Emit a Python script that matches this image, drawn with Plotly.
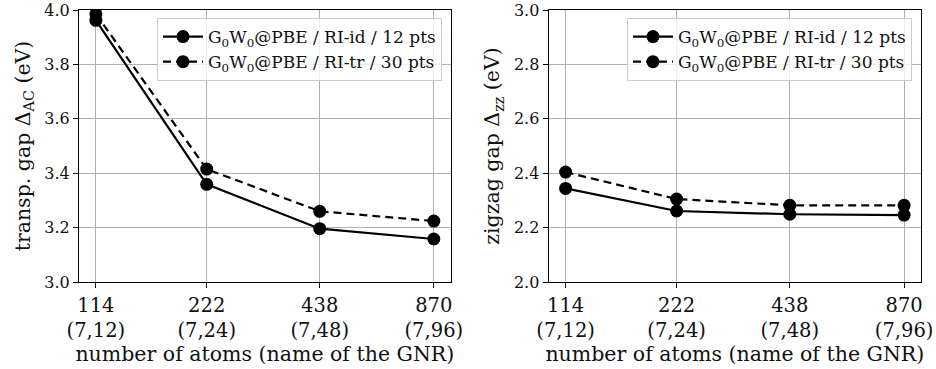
import plotly.graph_objects as go
from plotly.subplots import make_subplots

# GNR sizes (number of atoms) and their names
n_atoms = [114, 222, 438, 870]
gnr_names = ["(7,12)", "(7,24)", "(7,48)", "(7,96)"]
tick_text = [f"{n}<br>{g}" for n, g in zip(n_atoms, gnr_names)]

# transport gap Delta_AC (eV)
ac_ri_id = [3.962, 3.359, 3.196, 3.158]
ac_ri_tr = [3.985, 3.415, 3.260, 3.224]
ac_ticks = [3.0, 3.2, 3.4, 3.6, 3.8, 4.0]

# zigzag gap Delta_zz (eV)
zz_ri_id = [2.344, 2.261, 2.249, 2.246]
zz_ri_tr = [2.404, 2.305, 2.282, 2.282]
zz_ticks = [2.0, 2.2, 2.4, 2.6, 2.8, 3.0]

label_id = "G<sub>0</sub>W<sub>0</sub>@PBE / RI-id / 12 pts"
label_tr = "G<sub>0</sub>W<sub>0</sub>@PBE / RI-tr / 30 pts"

FONT = "'DejaVu Serif', serif"
INK = "#111"
W, H = 936, 369

fig = make_subplots(rows=1, cols=2)

panels = [
    (1, ac_ri_id, ac_ri_tr, "legend"),
    (2, zz_ri_id, zz_ri_tr, "legend2"),
]
for col, y_id, y_tr, leg in panels:
    fig.add_trace(go.Scatter(
        x=n_atoms, y=y_id, name=label_id, mode="lines+markers",
        line=dict(color="black", width=2.2),
        marker=dict(color="black", size=13),
        legend=leg,
    ), row=1, col=col)
    fig.add_trace(go.Scatter(
        x=n_atoms, y=y_tr, name=label_tr, mode="lines+markers",
        line=dict(color="black", width=2.2, dash="8px,5px"),
        marker=dict(color="black", size=13),
        legend=leg,
    ), row=1, col=col)

x0l, x1l = 79 / W, 450.7 / W
x0r, x1r = 548.7 / W, 921 / W
y0, y1 = 1 - 282 / H, 1 - 10 / H

axis_common = dict(
    showline=True, mirror=True, linecolor="black", linewidth=1.2,
    ticks="outside", ticklen=5, tickwidth=1.2, tickcolor="black",
    showgrid=True, gridcolor="#b0b0b0", gridwidth=1,
    zeroline=False, automargin=False, ticklabeloverflow="allow",
)

xaxis_common = dict(
    axis_common, type="log", range=[2.0128, 2.9836],
    tickvals=n_atoms, ticktext=tick_text,
    tickfont=dict(family=FONT, size=19.5, color=INK),
    title=dict(text="number of atoms (name of the GNR)",
               font=dict(family=FONT, size=20.5, color=INK), standoff=4),
)

def yaxis(ticks, title):
    return dict(
        axis_common, domain=[y0, y1], range=[ticks[0], ticks[-1]],
        tickvals=ticks, ticktext=[f"{t:.1f}" for t in ticks],
        tickfont=dict(family=FONT, size=16, color=INK),
        title=dict(text=title, font=dict(family=FONT, size=20.5, color=INK),
                   standoff=8),
    )

legend_common = dict(
    y=1 - 18 / H, xanchor="right", yanchor="top",
    bgcolor="rgba(255,255,255,0.8)", bordercolor="#cccccc", borderwidth=1,
    font=dict(family=FONT, size=17, color=INK),
    tracegroupgap=0, itemwidth=40,
)

fig.update_layout(
    width=W, height=H,
    margin=dict(l=0, r=0, t=0, b=0),
    paper_bgcolor="white", plot_bgcolor="white",
    font=dict(family=FONT, size=17, color=INK),
    xaxis=dict(xaxis_common, domain=[x0l, x1l]),
    xaxis2=dict(xaxis_common, domain=[x0r, x1r]),
    yaxis=yaxis(ac_ticks, "transp. gap Δ<sub>AC</sub> (eV)"),
    yaxis2=yaxis(zz_ticks, "zigzag gap Δ<sub>zz</sub> (eV)"),
    legend=dict(legend_common, x=442 / W),
    legend2=dict(legend_common, x=912 / W),
)

fig.write_html("out.html")
